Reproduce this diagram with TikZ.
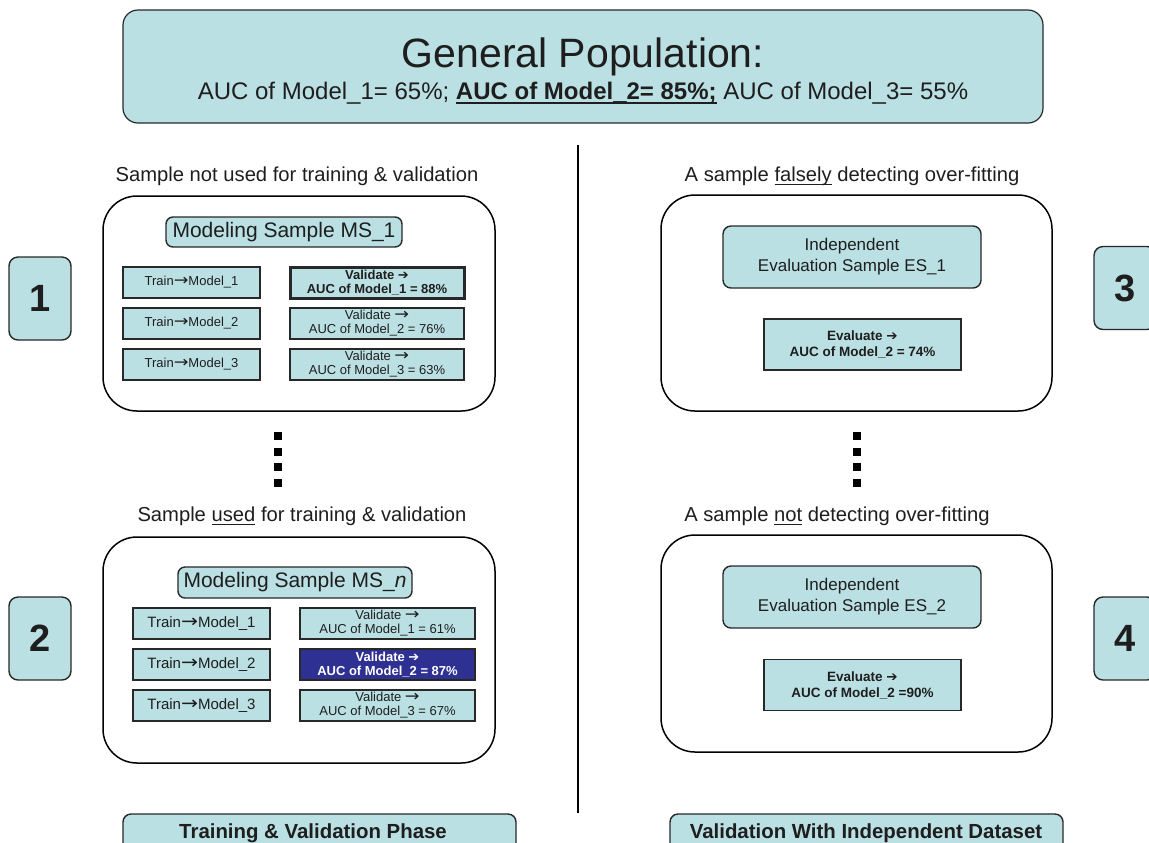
\documentclass[tikz,border=0pt]{standalone}
\usepackage{fontspec}
\setmainfont{Liberation Sans}
\newfontfamily\symfont{DejaVu Sans}
% arrows: a plain one for regular text, a heavy one for bold text
\newcommand{\rarr}{{\symfont\scalebox{1.35}[1.2]{→}}}
\newcommand{\barr}{{\symfont ➔}}
% underline with fixed offset below the baseline
\newcommand{\myul}[2][0.5pt]{\leavevmode\vtop{\hbox{\raisebox{0pt}[\height][0pt]{#2}}\kern1.6pt\hrule height #1}}
\definecolor{tealfill}{RGB}{187,224,227}
\definecolor{navy}{RGB}{46,49,146}
\definecolor{edge}{RGB}{40,40,40}
\definecolor{ink}{RGB}{30,30,30}
\begin{document}
\begin{tikzpicture}[x=0.5pt,y=-0.5pt,
  every node/.style={text=ink},
  teal/.style={fill=tealfill, draw=edge, line width=0.7pt, inner sep=0pt},
  headbox/.style={teal, rounded corners=7.5pt, line width=0.6pt},
  panel/.style={draw=black, fill=white, line width=0.75pt, rounded corners=17pt, inner sep=0pt},
  msbox/.style={teal, rounded corners=3.5pt, font=\fontsize{10.5}{12}\selectfont},
  indep/.style={teal, rounded corners=4pt, align=center, font=\fontsize{8.5}{10.5}\selectfont,
                minimum width=129pt, minimum height=31pt},
  evalbox/.style={teal, align=center, font=\fontsize{6.75}{8}\selectfont\bfseries,
                minimum width=98.5pt, minimum height=25.5pt},
  trainA/.style={teal, minimum width=68.5pt, minimum height=15.5pt, font=\fontsize{6.5}{7}\selectfont},
  trainB/.style={teal, minimum width=68.5pt, minimum height=15.5pt, font=\fontsize{7.5}{8}\selectfont},
  valA/.style={teal, minimum width=87pt, minimum height=15.5pt, align=center, font=\fontsize{6.5}{7}\selectfont},
  valB/.style={teal, minimum width=87.5pt, minimum height=15.5pt, align=center, font=\fontsize{6.5}{7}\selectfont},
  numbox/.style={teal, rounded corners=4.5pt, minimum width=31pt, minimum height=41.5pt,
                font=\fontsize{19}{22}\selectfont\bfseries},
  footbox/.style={teal, rounded corners=4pt, minimum width=196.5pt, minimum height=30pt},
  caption/.style={anchor=base, font=\fontsize{10.1}{12}\selectfont},
  footlabel/.style={anchor=base, font=\fontsize{10.2}{12}\selectfont\bfseries},
  dot/.style={fill=black}]
\useasboundingbox (0,0) rectangle (1149,842);

% header
\node[headbox, minimum width=460pt, minimum height=56.5pt] (pop) at (583,66.5) {};
\node[anchor=base, font=\fontsize{20.5}{24}\selectfont] (poptitle) at (583,67) {General Population:};
\node[anchor=base, font=\fontsize{12}{14}\selectfont] (popauc) at (583,99)
  {AUC of Model\_1= 65\%; \myul[0.9pt]{\textbf{AUC of Model\_2= 85\%;}} AUC of Model\_3= 55\%};

% divider between the two phases
\coordinate (divtop) at (578,145);
\coordinate (divbot) at (578,813);
\draw[line width=1pt, black] (divtop) -- (divbot);

% captions
\node[caption] (capA) at (297,181) {Sample not used for training \& validation};
\node[caption] (capB) at (302,521) {Sample \myul{used} for training \& validation};
\node[caption] (capC) at (852,181) {A sample \myul{falsely} detecting over-fitting};
\node[caption] (capD) at (837,521) {A sample \myul{not} detecting over-fitting};

% panels
\node[panel, minimum width=196pt, minimum height=107.5pt] (panA) at (299,303.5) {};
\node[panel, minimum width=196pt, minimum height=113pt] (panB) at (299,650) {};
\node[panel, minimum width=195.5pt, minimum height=108pt] (panC) at (856.5,303) {};
\node[panel, minimum width=195.5pt, minimum height=108.5pt] (panD) at (856.5,643.5) {};

% modeling sample MS_1
\node[msbox, minimum width=118pt, minimum height=15pt] (ms1) at (284,232) {Modeling Sample MS\_1};
\node[trainA] (a1) at (191.5,282.5) {Train\rarr Model\_1};
\node[trainA] (a2) at (191.5,323.5) {Train\rarr Model\_2};
\node[trainA] (a3) at (191.5,364.5) {Train\rarr Model\_3};
\node[valA, line width=1.5pt, font=\fontsize{6.5}{7}\selectfont\bfseries] (v1) at (377,282.5)
  {Validate \barr\\AUC of Model\_1 = 88\%};
\node[valA] (v2) at (377,323.5) {Validate \rarr\\AUC of Model\_2 = 76\%};
\node[valA] (v3) at (377,364.5) {Validate \rarr\\AUC of Model\_3 = 63\%};

% modeling sample MS_n
\node[msbox, minimum width=117pt, minimum height=15.5pt] (msn) at (295,582.5) {Modeling Sample MS\_\textit{n}};
\node[trainB] (b1) at (201.5,623.5) {Train\rarr Model\_1};
\node[trainB] (b2) at (201.5,664.5) {Train\rarr Model\_2};
\node[trainB] (b3) at (201.5,705.5) {Train\rarr Model\_3};
\node[valB] (w1) at (387.5,623.5) {Validate \rarr\\AUC of Model\_1 = 61\%};
\node[valB, fill=navy, text=white, font=\fontsize{6.5}{7}\selectfont\bfseries] (w2) at (387.5,664.5)
  {Validate \barr\\AUC of Model\_2 = 87\%};
\node[valB] (w3) at (387.5,705.5) {Validate \rarr\\AUC of Model\_3 = 67\%};

% independent evaluation samples
\node[indep] (es1) at (852,257) {Independent\\Evaluation Sample ES\_1};
\node[evalbox] (e1) at (862.5,344.5) {Evaluate \barr\\AUC of Model\_2 = 74\%};
\node[indep] (es2) at (852,597) {Independent\\Evaluation Sample ES\_2};
\node[evalbox] (e2) at (862.5,685) {Evaluate \barr\\AUC of Model\_2 =90\%};

% ellipsis dots
\foreach \yy in {436,452,467,483} {
  \fill[dot] (274,\yy-4) rectangle (282,\yy+4);
  \fill[dot] (853,\yy-4) rectangle (861,\yy+4);
}

% step numbers
\node[numbox] (n1) at (40,298.5) {1};
\node[numbox] (n2) at (40,638.5) {2};
\node[numbox] (n3) at (1125,288) {3};
\node[numbox] (n4) at (1125,638.5) {4};

% phase labels
\node[footbox] (fA) at (319.5,844) {};
\node[footbox] (fB) at (866.5,844) {};
\node[footlabel] (fAt) at (313,838) {Training \& Validation Phase};
\node[footlabel] (fBt) at (866,838) {Validation With Independent Dataset};
\end{tikzpicture}
\end{document}
